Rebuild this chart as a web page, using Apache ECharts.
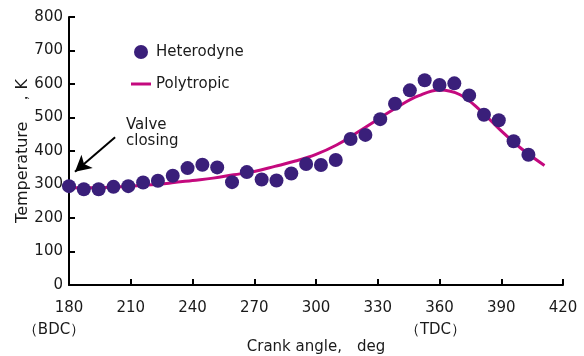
<!DOCTYPE html>
<html>
<head>
<meta charset="utf-8">
<script src="https://cdn.jsdelivr.net/npm/echarts@6/dist/echarts.min.js"></script>
<style>
html,body{margin:0;padding:0;background:#fff;}
#chart{width:584px;height:356px;}
</style>
</head>
<body>
<div id="chart"></div>
<script>
// Heterodyne measurement (crank angle, deg)
const hetAngles = [180, 187.2, 194.4, 201.6, 208.8, 216, 223.2, 230.4, 237.6, 244.8, 252, 259.2, 266.4, 273.6, 280.8, 288, 295.2, 302.4, 309.6, 316.8, 324, 331.2, 338.4, 345.6, 352.8, 360, 367.2, 374.4, 381.6, 388.8, 396, 403.2];
const hetTemps = [295, 286, 286, 293, 295, 306, 311, 326, 349, 359, 351, 307, 337, 315, 312, 333, 361, 358, 373, 436, 448, 495, 541, 581, 611, 597, 602, 566, 508, 492, 429, 389];
// Polytropic curve
const polyAngles = [180, 190, 200, 210, 220, 230, 240, 250, 260, 270, 280, 290, 300, 310, 320, 330, 340, 350, 360, 370, 380, 390, 400, 411];
const polyTemps = [290, 290, 292, 295, 299, 305, 312, 319, 329, 339, 354, 370, 390, 418, 455, 494, 533, 565, 582, 568, 520, 460, 406, 357];
// Axis ticks
const xTicks = [180, 210, 240, 270, 300, 330, 360, 390, 420];
const yTicks = [0, 100, 200, 300, 400, 500, 600, 700, 800];
// Annotation arrow (data coordinates)
const arrowFrom = [202.4, 441];
const arrowTo = [182.9, 338];

const FONT = 'DejaVu Sans';
const TXT = '#1a1a1a';

const chart = echarts.init(document.getElementById('chart'), null, {renderer: 'canvas'});
chart.setOption({
  animation: false,
  backgroundColor: '#fff',
  grid: {left: 69, right: 21, top: 17, bottom: 71, containLabel: false, outerBoundsMode: 'none'},
  legend: {
    orient: 'vertical',
    left: 126, top: 39,
    itemWidth: 20, itemHeight: 14, itemGap: 16,
    textStyle: {fontFamily: FONT, fontSize: 15, color: TXT, lineHeight: 16},
    data: [
      {name: 'Heterodyne', icon: 'circle'},
      {name: 'Polytropic', icon: 'path://M0,0 L20,0 L20,3 L0,3 Z'}
    ]
  },
  xAxis: {
    type: 'value', min: xTicks[0], max: xTicks[xTicks.length - 1], interval: 30,
    name: 'Crank angle,\u3000deg', nameLocation: 'middle', nameGap: 55, nameMoveOverlap: false,
    nameTextStyle: {fontFamily: FONT, fontSize: 15, color: TXT},
    axisLine: {lineStyle: {color: '#000', width: 2}},
    axisTick: {inside: true, length: 6, lineStyle: {color: '#000', width: 2}},
    splitLine: {show: false},
    axisLabel: {
      fontFamily: FONT, fontSize: 15, color: TXT, margin: 12, lineHeight: 22,
      formatter: function (v) {
        if (v === 180) return v + '\n{b|\uff08BDC\uff09}';
        if (v === 360) return v + '\n{t|\uff08TDC\uff09}';
        return String(v);
      },
      rich: {
        b: {fontFamily: FONT, fontSize: 15, color: TXT, padding: [0, 30, 0, 0], lineHeight: 22},
        t: {fontFamily: FONT, fontSize: 15, color: TXT, padding: [0, 8, 0, 0], lineHeight: 22}
      }
    }
  },
  yAxis: {
    type: 'value', min: yTicks[0], max: yTicks[yTicks.length - 1], interval: 100,
    name: 'Temperature\u3000\uff0cK', nameLocation: 'middle', nameGap: 38, nameMoveOverlap: false,
    nameTextStyle: {fontFamily: FONT, fontSize: 16, color: TXT},
    axisLine: {show: true, lineStyle: {color: '#000', width: 2}},
    axisTick: {show: true, inside: true, length: 6, lineStyle: {color: '#000', width: 2}},
    splitLine: {show: false},
    axisLabel: {fontFamily: FONT, fontSize: 15, color: TXT, margin: 6}
  },
  graphic: [
    {type: 'text', left: 126, top: 117,
     style: {text: 'Valve\nclosing', font: '15px "DejaVu Sans"', fill: TXT, lineHeight: 16}}
  ],
  series: [
    {
      name: 'Polytropic', type: 'line', smooth: 0.4, showSymbol: false, symbol: 'none',
      data: polyAngles.map((a, i) => [a, polyTemps[i]]),
      lineStyle: {color: '#c4097e', width: 3},
      itemStyle: {color: '#c4097e'},
      z: 2
    },
    {
      name: 'Heterodyne', type: 'scatter', symbol: 'circle', symbolSize: 14,
      data: hetAngles.map((a, i) => [a, hetTemps[i]]),
      itemStyle: {color: '#3a1f7a', opacity: 1},
      z: 3,
      markLine: {
        silent: true, animation: false,
        symbol: ['none', 'arrow'], symbolSize: [13, 16],
        lineStyle: {color: '#000', width: 2, type: 'solid'},
        label: {show: false},
        data: [[{coord: arrowFrom}, {coord: arrowTo}]]
      }
    }
  ]
});
</script>
</body>
</html>
